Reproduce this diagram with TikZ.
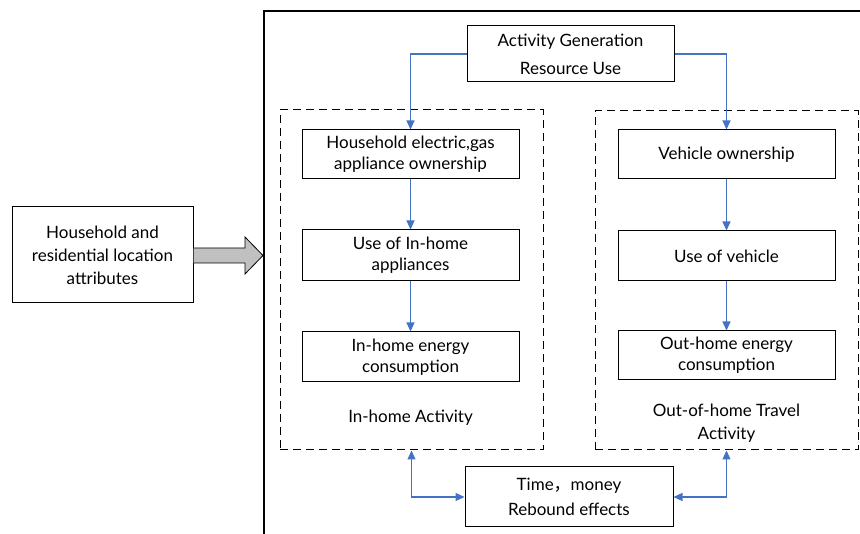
\documentclass[tikz,border=0pt]{standalone}
\usepackage{fontspec}
\setmainfont{Lato}
\newfontfamily\cjk{Noto Sans CJK SC}
\usetikzlibrary{arrows.meta}
\definecolor{arrblue}{RGB}{68,114,196}
\definecolor{arrgray}{RGB}{192,192,192}
\begin{document}
\begin{tikzpicture}[x=1pt,y=-1pt,
  box/.style={draw, line width=1pt, align=center, inner sep=0pt,
    font=\fontsize{17}{21}\selectfont},
  dbox/.style={draw, dash pattern=on 8pt off 5pt, line width=1pt, inner sep=0pt},
  lbl/.style={align=center, inner sep=0pt, font=\fontsize{17}{23}\selectfont},
  blu/.style={draw=arrblue, line width=1.1pt, -{Triangle[length=9pt,width=8pt]}},
  blu2/.style={draw=arrblue, line width=1.1pt, {Triangle[length=9pt,width=8pt]}-{Triangle[length=9pt,width=8pt]}}
]
\useasboundingbox (0,0) rectangle (860,534);
% big frame (clipped)
\draw[line width=2.4pt] (264,540) -- (264,11) -- (870,11);
% dashed groups
\node[dbox, minimum width=263pt, minimum height=340pt] (lgrp) at (411.5,280) {};
\node[dbox, minimum width=263pt, minimum height=339pt] (rgrp) at (726.5,280.5) {};
% boxes
\node[box, minimum width=207pt, minimum height=56pt, font=\fontsize{17}{28}\selectfont] (top) at (570.5,54) {Activity Generation\\Resource Use};
\node[box, minimum width=217pt, minimum height=49pt] (hh) at (410.5,154.5) {Household electric,gas\\appliance ownership};
\node[box, minimum width=217pt, minimum height=51pt] (usein) at (410.5,255.5) {Use of In-home\\appliances};
\node[box, minimum width=217pt, minimum height=50pt] (enin) at (410.5,357) {In-home energy\\consumption};
\node[lbl] (inact) at (410.5,418) {In-home Activity};
\node[box, minimum width=217pt, minimum height=49pt] (veh) at (726.5,154.5) {Vehicle ownership};
\node[box, minimum width=217pt, minimum height=50pt] (usev) at (726.5,256) {Use of vehicle};
\node[box, minimum width=217pt, minimum height=49pt] (enout) at (726.5,355.5) {Out-home energy\\consumption};
\node[lbl] (outact) at (726.5,423) {Out-of-home Travel\\Activity};
\node[box, minimum width=208pt, minimum height=60pt, font=\fontsize{17}{25}\selectfont] (tm) at (569,497) {Time{\cjk ，}money\\Rebound effects};
\node[box, minimum width=181pt, minimum height=96pt, font=\fontsize{17}{23}\selectfont] (hhattr) at (102.5,255) {Household and\\residential location\\attributes};
% block arrow
\coordinate (tip) at (263,255.5);
\draw[fill=arrgray, line width=0.8pt] (hhattr.east |- 0,248) -- (245,248) -- (245,237) -- (tip) -- (245,274) -- (245,263) -- (hhattr.east |- 0,263);
% blue connectors
\draw[blu] (top.west) -| (hh.north);
\draw[blu] (top.east) -| (veh.north);
\draw[blu] (hh) -- (usein);
\draw[blu] (usein) -- (enin);
\draw[blu] (veh) -- (usev);
\draw[blu] (usev) -- (enout);
\draw[blu2] (tm.west) -| (lgrp.south);
\draw[blu2] (tm.east) -| (rgrp.south);
\end{tikzpicture}
\end{document}
